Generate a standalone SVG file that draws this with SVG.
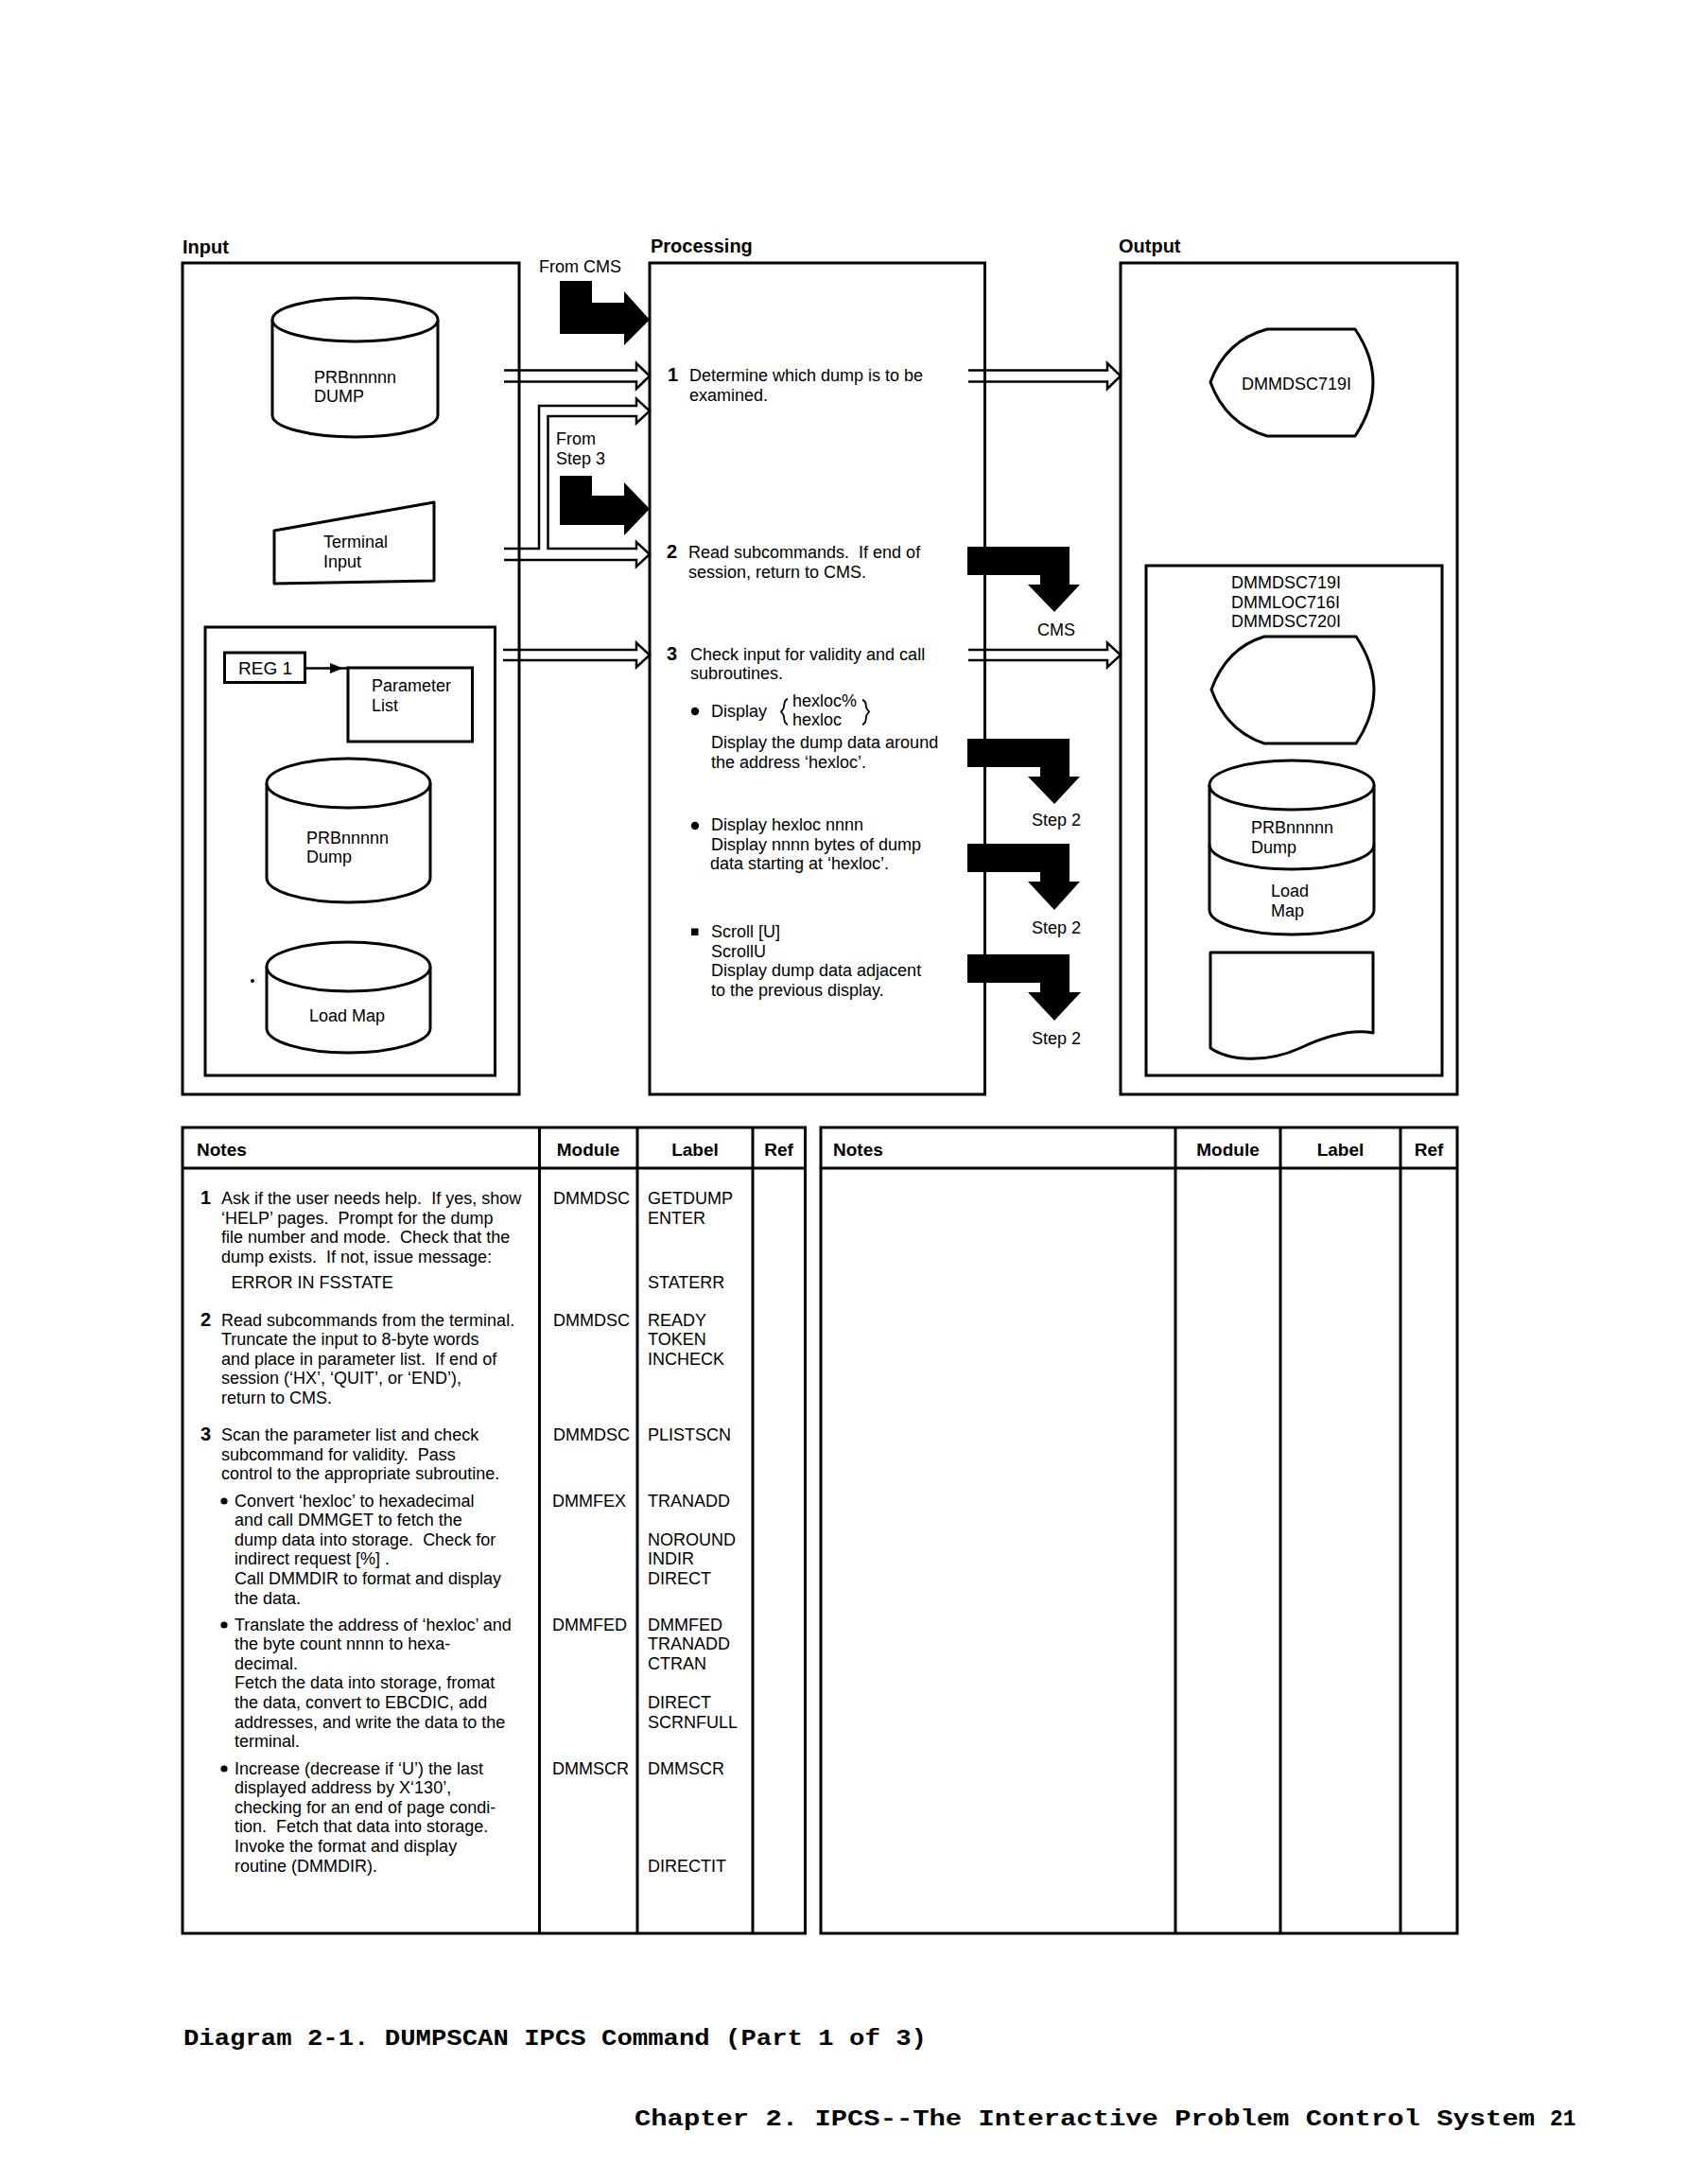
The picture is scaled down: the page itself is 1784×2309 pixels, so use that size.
<svg xmlns="http://www.w3.org/2000/svg" width="1784" height="2309" viewBox="0 0 1784 2309">
<style>
text { font-family: "Liberation Sans", Arial, sans-serif; font-size: 18px; fill: #000; white-space: pre; }
.h { font-size: 20px; font-weight: bold; }
.th { font-size: 19px; font-weight: bold; }
.n { font-size: 20px; font-weight: bold; }
.mid { text-anchor: middle; }
.mono { font-family: "Liberation Mono", "Courier New", monospace; font-size: 23px; font-weight: bold; }
.box { fill: none; stroke: #000; stroke-width: 3; }
.shape { fill: #fff; stroke: #000; stroke-width: 3; stroke-linejoin: round; }
.line { fill: none; stroke: #000; stroke-width: 3; }
.hollow { fill: none; stroke: #000; stroke-width: 2.5; stroke-linejoin: miter; }
.solid { fill: #000; stroke: none; }
.thin { fill: none; stroke: #000; stroke-width: 1.8; }
</style>
<rect width="1784" height="2309" fill="#fff"/>

<!-- Column headers -->
<text class="h" x="193" y="268">Input</text>
<text class="h" x="688" y="267">Processing</text>
<text class="h" x="1183" y="267">Output</text>

<!-- Main boxes -->
<g id="input-box"><rect class="box" x="193" y="278" width="356" height="879"/></g>
<g id="processing-box"><rect class="box" x="687" y="278" width="354.5" height="879"/></g>
<g id="output-box"><rect class="box" x="1185" y="278" width="356" height="879"/></g>

<!-- Input nodes -->
<g id="prb-dump-cyl">
  <path class="shape" d="M288,338 L288,439 A87.5,23 0 0 0 463,439 L463,338"/>
  <ellipse class="shape" cx="375.5" cy="338" rx="87.5" ry="23"/>
  <text x="332" y="405">PRBnnnnn</text>
  <text x="332" y="425">DUMP</text>
</g>
<g id="terminal-input">
  <polygon class="shape" points="290,561 459,531 459,614 290,617"/>
  <text x="342" y="579">Terminal</text>
  <text x="342" y="600">Input</text>
</g>
<g id="input-inner-box">
  <rect class="box" x="217" y="663" width="306.5" height="474"/>
</g>
<g id="reg1">
  <rect class="box" x="237.5" y="690" width="85" height="31.5"/>
  <text x="252" y="713" style="font-size:19px">REG 1</text>
</g>
<g id="parameter-list">
  <rect class="box" x="368" y="706" width="131.5" height="78"/>
  <text x="393" y="731">Parameter</text>
  <text x="393" y="752">List</text>
</g>
<g id="input-dump-cyl">
  <path class="shape" d="M282,828 L282,928 A86.5,26 0 0 0 455,928 L455,828"/>
  <ellipse class="shape" cx="368.5" cy="828" rx="86.5" ry="26"/>
  <text x="324" y="892">PRBnnnnn</text>
  <text x="324" y="912">Dump</text>
</g>
<g id="input-loadmap-cyl">
  <path class="shape" d="M282,1022 L282,1087 A86.5,26 0 0 0 455,1087 L455,1022"/>
  <ellipse class="shape" cx="368.5" cy="1022" rx="86.5" ry="26"/>
  <text x="327" y="1080">Load Map</text>
</g>
<circle cx="267" cy="1037" r="2" fill="#000"/>

<!-- Processing steps -->
<g id="step1">
  <text class="n" x="706" y="403">1</text>
  <text x="729" y="403">Determine which dump is to be</text>
  <text x="729" y="424">examined.</text>
</g>
<g id="step2">
  <text class="n" x="705" y="590">2</text>
  <text x="728" y="590">Read subcommands.  If end of</text>
  <text x="728" y="610.5">session, return to CMS.</text>
</g>
<g id="step3">
  <text class="n" x="705" y="697.5">3</text>
  <text x="730" y="697.5">Check input for validity and call</text>
  <text x="730" y="718">subroutines.</text>
  <circle cx="735" cy="752" r="4.2" fill="#000"/>
  <text x="752" y="758">Display</text>
  <path class="thin" d="M833,739 C828,740 830,746 828.5,749 L826,752.5 L828.5,756 C830,759 828,765 833,766"/>
  <text x="838" y="747">hexloc%</text>
  <text x="838" y="767">hexloc</text>
  <path class="thin" d="M912,740 C917,741 915,746 916.5,749 L919,752.5 L916.5,756 C915,759 917,765 912,766"/>
  <text x="752" y="791">Display the dump data around</text>
  <text x="752" y="811.5">the address ‘hexloc’.</text>
  <circle cx="735" cy="873" r="4.2" fill="#000"/>
  <text x="752" y="878">Display hexloc nnnn</text>
  <text x="752" y="898.5">Display nnnn bytes of dump</text>
  <text x="751" y="919">data starting at ‘hexloc’.</text>
  <rect x="731" y="981.5" width="7.5" height="7.5" fill="#000"/>
  <text x="752" y="991">Scroll [U]</text>
  <text x="752" y="1011.5">ScrollU</text>
  <text x="752" y="1032">Display dump data adjacent</text>
  <text x="752" y="1052.5">to the previous display.</text>
</g>

<!-- Output nodes -->
<g id="display-dmmdsc719i">
  <path class="shape" d="M1280,404 Q1296,360 1340,348 L1433,348 Q1471,404 1433,461 L1340,461 Q1296,448 1280,404 Z"/>
  <text x="1313" y="411.5">DMMDSC719I</text>
</g>
<g id="output-inner-box">
  <rect class="box" x="1212" y="598" width="313" height="539"/>
  <text x="1302" y="622">DMMDSC719I</text>
  <text x="1302" y="642.5">DMMLOC716I</text>
  <text x="1302" y="663">DMMDSC720I</text>
</g>
<g id="display-messages">
  <path class="shape" d="M1281,729 Q1297,685 1337,673 L1434,673 Q1472,729 1434,786 L1337,786 Q1297,773 1281,729 Z"/>
</g>
<g id="output-dump-cyl">
  <path class="shape" d="M1279,830 L1279,962 A87,26 0 0 0 1453,962 L1453,830"/>
  <ellipse class="shape" cx="1366" cy="830" rx="87" ry="26"/>
  <path class="line" d="M1279,893 A87,26 0 0 0 1453,893"/>
  <text x="1323" y="881">PRBnnnnn</text>
  <text x="1323" y="901.5">Dump</text>
  <text x="1344" y="948">Load</text>
  <text x="1344" y="969">Map</text>
</g>
<g id="output-document">
  <path class="shape" d="M1280,1007 L1452,1007 L1452,1092 C1430,1088 1405,1094 1375,1108 C1340,1124 1300,1122 1280,1108 Z"/>
</g>

<!-- Connectors -->
<g id="connectors">
  <!-- hollow arrows input -> processing -->
  <path class="hollow" d="M533,391.5 L673,391.5 L673,384 L687,397.5 L673,411 L673,403.5 L533,403.5"/>
  <path class="hollow" d="M533,580 L570,580 L570,429 L673,429 L673,421.5 L687,434.5 L673,447.5 L673,440 L579.5,440 L579.5,580 L673,580 L673,573 L687,586 L673,599 L673,592 L533,592"/>
  <path class="hollow" d="M532,687 L673,687 L673,679.5 L687,692.5 L673,705.5 L673,698 L532,698"/>
  <!-- hollow arrows processing -> output -->
  <path class="hollow" d="M1024,391.5 L1171,391.5 L1171,384 L1185,397.5 L1171,411 L1171,403.5 L1024,403.5"/>
  <path class="hollow" d="M1024,687 L1171,687 L1171,679.5 L1185,692.5 L1171,705.5 L1171,698 L1024,698"/>
  <!-- REG 1 pointer -->
  <line class="line" x1="322.5" y1="706.5" x2="368" y2="706.5" style="stroke-width:2.5"/>
  <polygon class="solid" points="349,701 363,706.5 349,712"/>
  <!-- black flow arrows into processing -->
  <text x="570" y="288">From CMS</text>
  <polygon class="solid" points="592,297 626,297 626,320 660,320 660,308 687,338 660,365 660,353 592,353"/>
  <text x="588" y="470">From</text>
  <text x="588" y="490.5">Step 3</text>
  <polygon class="solid" points="592,503 626,503 626,524 660,524 660,510 687,538 660,566 660,555 592,555"/>
  <!-- black flow arrows out of processing -->
  <polygon class="solid" points="1023,578 1131,578 1131,618 1142,618 1115,647 1087,618 1100,618 1100,608 1023,608"/>
  <text class="mid" x="1117" y="671.5">CMS</text>
  <polygon class="solid" points="1023,781 1131,781 1131,821 1142,821 1115,850 1087,821 1100,821 1100,811 1023,811"/>
  <text class="mid" x="1117" y="872.5">Step 2</text>
  <polygon class="solid" points="1023,892 1131,892 1131,932 1142,932 1115,962 1087,932 1100,932 1100,922 1023,922"/>
  <text class="mid" x="1117" y="987">Step 2</text>
  <polygon class="solid" points="1023,1009 1131,1009 1131,1049 1143,1049 1115,1079 1087,1049 1100,1049 1100,1039 1023,1039"/>
  <text class="mid" x="1117" y="1104">Step 2</text>
</g>

<!-- Left notes table -->
<g id="notes-table-left">
  <rect class="box" x="193" y="1192" width="658.5" height="852"/>
  <line class="line" x1="193" y1="1235" x2="851.5" y2="1235"/>
  <line class="line" x1="570.5" y1="1192" x2="570.5" y2="2044"/>
  <line class="line" x1="674" y1="1192" x2="674" y2="2044"/>
  <line class="line" x1="796" y1="1192" x2="796" y2="2044"/>
  <text class="th" x="208" y="1222">Notes</text>
  <text class="th mid" x="622" y="1222">Module</text>
  <text class="th mid" x="735" y="1222">Label</text>
  <text class="th mid" x="823.5" y="1222">Ref</text>

  <text class="n" x="212" y="1273">1</text>
  <text x="234" y="1273">Ask if the user needs help.  If yes, show</text>
  <text x="234" y="1293.6">‘HELP’ pages.  Prompt for the dump</text>
  <text x="234" y="1314.2">file number and mode.  Check that the</text>
  <text x="234" y="1334.8">dump exists.  If not, issue message:</text>
  <text x="244.5" y="1362">ERROR IN FSSTATE</text>
  <text x="585" y="1273">DMMDSC</text>
  <text x="685" y="1273">GETDUMP</text>
  <text x="685" y="1293.6">ENTER</text>
  <text x="685" y="1362">STATERR</text>

  <text class="n" x="212" y="1401.5">2</text>
  <text x="234" y="1401.5">Read subcommands from the terminal.</text>
  <text x="234" y="1422">Truncate the input to 8-byte words</text>
  <text x="234" y="1442.7">and place in parameter list.  If end of</text>
  <text x="234" y="1463.3">session (‘HX’, ‘QUIT’, or ‘END’),</text>
  <text x="234" y="1484">return to CMS.</text>
  <text x="585" y="1401.5">DMMDSC</text>
  <text x="685" y="1401.5">READY</text>
  <text x="685" y="1422">TOKEN</text>
  <text x="685" y="1442.7">INCHECK</text>

  <text class="n" x="212" y="1523">3</text>
  <text x="234" y="1523">Scan the parameter list and check</text>
  <text x="234" y="1543.6">subcommand for validity.  Pass</text>
  <text x="234" y="1564.2">control to the appropriate subroutine.</text>
  <text x="585" y="1523">DMMDSC</text>
  <text x="685" y="1523">PLISTSCN</text>

  <circle cx="237" cy="1587" r="3.6" fill="#000"/>
  <text x="248" y="1592.5">Convert ‘hexloc’ to hexadecimal</text>
  <text x="248" y="1613">and call DMMGET to fetch the</text>
  <text x="248" y="1633.7">dump data into storage.  Check for</text>
  <text x="248" y="1654.3">indirect request [%] .</text>
  <text x="248" y="1675">Call DMMDIR to format and display</text>
  <text x="248" y="1695.5">the data.</text>
  <text x="584" y="1592.5">DMMFEX</text>
  <text x="685" y="1592.5">TRANADD</text>
  <text x="685" y="1633.7">NOROUND</text>
  <text x="685" y="1654.3">INDIR</text>
  <text x="685" y="1675">DIRECT</text>

  <circle cx="237" cy="1718" r="3.6" fill="#000"/>
  <text x="248" y="1723.5">Translate the address of ‘hexloc’ and</text>
  <text x="248" y="1744">the byte count nnnn to hexa-</text>
  <text x="248" y="1764.7">decimal.</text>
  <text x="248" y="1785.3">Fetch the data into storage, fromat</text>
  <text x="248" y="1806">the data, convert to EBCDIC, add</text>
  <text x="248" y="1826.5">addresses, and write the data to the</text>
  <text x="248" y="1847">terminal.</text>
  <text x="584" y="1723.5">DMMFED</text>
  <text x="685" y="1723.5">DMMFED</text>
  <text x="685" y="1744">TRANADD</text>
  <text x="685" y="1764.7">CTRAN</text>
  <text x="685" y="1806">DIRECT</text>
  <text x="685" y="1826.5">SCRNFULL</text>

  <circle cx="237" cy="1870" r="3.6" fill="#000"/>
  <text x="248" y="1875.5">Increase (decrease if ‘U’) the last</text>
  <text x="248" y="1896">displayed address by X‘130’,</text>
  <text x="248" y="1916.7">checking for an end of page condi-</text>
  <text x="248" y="1937.3">tion.  Fetch that data into storage.</text>
  <text x="248" y="1958">Invoke the format and display</text>
  <text x="248" y="1978.5">routine (DMMDIR).</text>
  <text x="584" y="1875.5">DMMSCR</text>
  <text x="685" y="1875.5">DMMSCR</text>
  <text x="685" y="1978.5">DIRECTIT</text>
</g>

<!-- Right notes table (empty) -->
<g id="notes-table-right">
  <rect class="box" x="868" y="1192" width="673" height="852"/>
  <line class="line" x1="868" y1="1235" x2="1541" y2="1235"/>
  <line class="line" x1="1243" y1="1192" x2="1243" y2="2044"/>
  <line class="line" x1="1354" y1="1192" x2="1354" y2="2044"/>
  <line class="line" x1="1481" y1="1192" x2="1481" y2="2044"/>
  <text class="th" x="881" y="1222">Notes</text>
  <text class="th mid" x="1298.5" y="1222">Module</text>
  <text class="th mid" x="1417.5" y="1222">Label</text>
  <text class="th mid" x="1511" y="1222">Ref</text>
</g>

<!-- Footer -->
<g id="footer">
  <text class="mono" x="194" y="2162" textLength="786" lengthAdjust="spacingAndGlyphs">Diagram 2-1. DUMPSCAN IPCS Command (Part 1 of 3)</text>
  <text class="mono" x="671" y="2247" textLength="952" lengthAdjust="spacingAndGlyphs">Chapter 2. IPCS--The Interactive Problem Control System</text>
  <text class="mono" x="1639" y="2247">21</text>
</g>
</svg>
